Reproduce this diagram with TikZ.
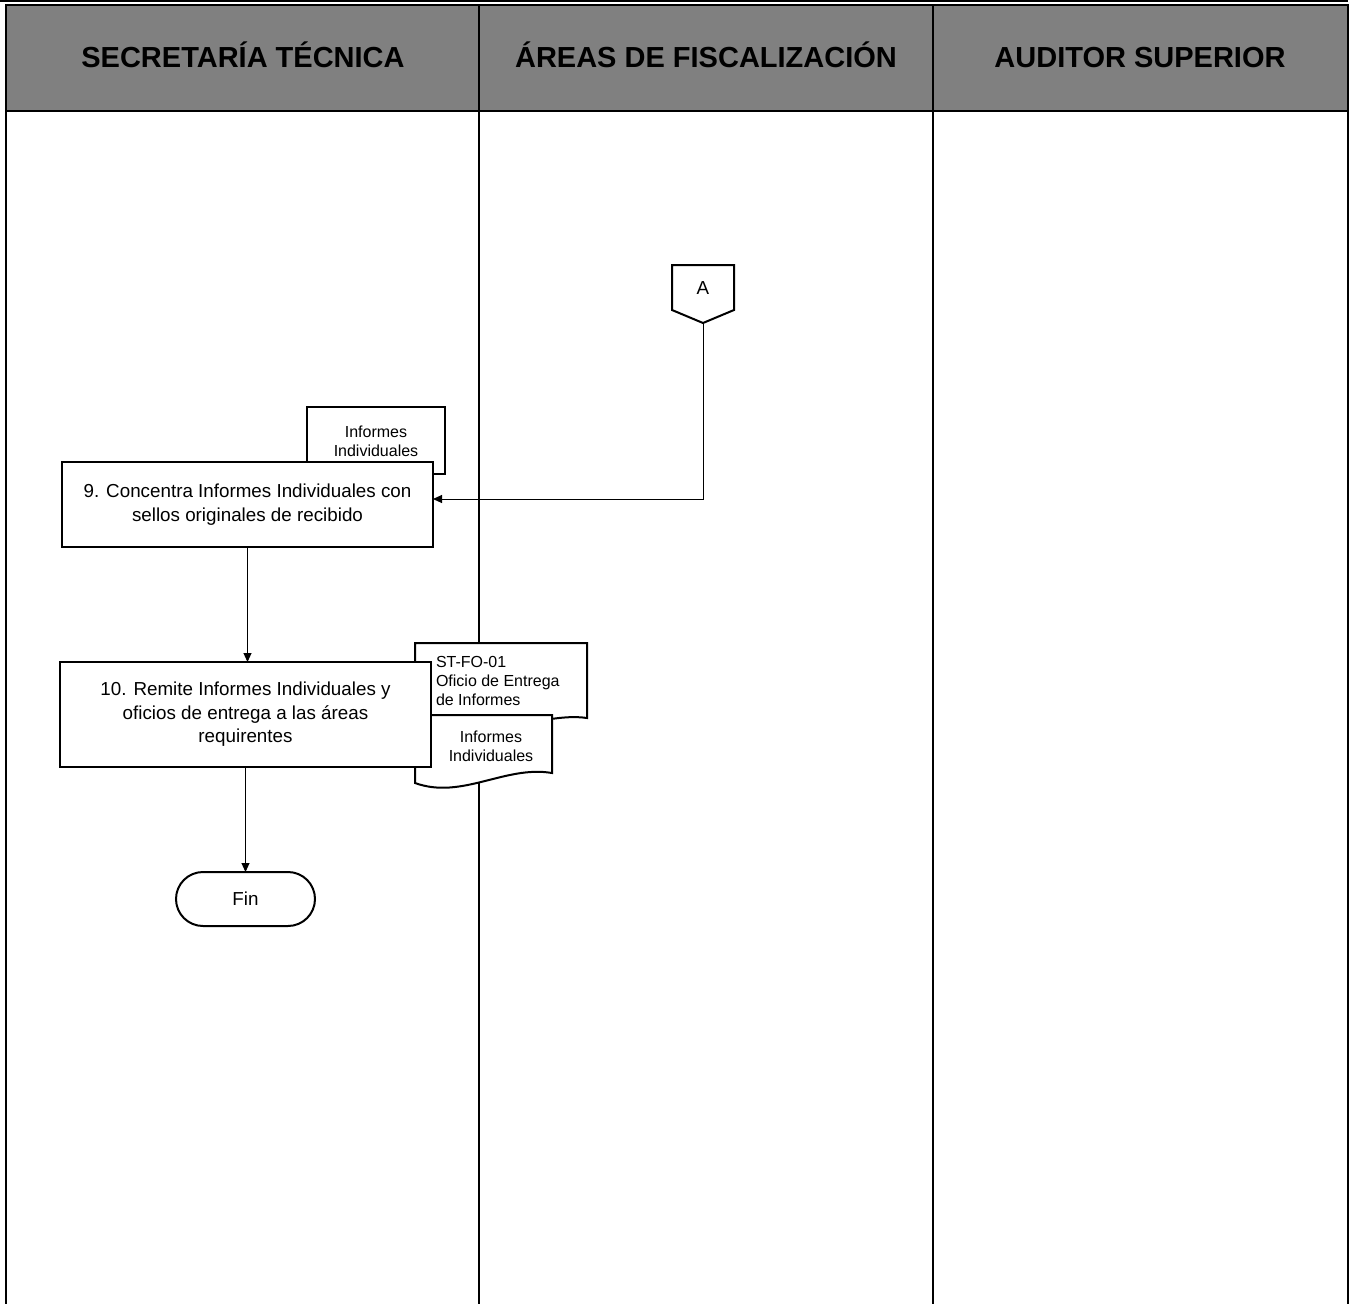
\documentclass[tikz,border=0pt]{standalone}
\usepackage{fontspec}
\setmainfont{Liberation Sans}
\usetikzlibrary{arrows.meta,calc}
\begin{document}
\begin{tikzpicture}[x=1pt,y=-1pt,
  every node/.style={inner sep=0pt,outer sep=0pt},
  lane/.style={line width=1.2pt},
  headtext/.style={font=\fontsize{29}{34}\selectfont\bfseries,anchor=base},
  procbox/.style={draw,line width=2pt,fill=white,align=center,
    minimum width=371pt,font=\fontsize{18.8}{23.5}\selectfont},
  docshape/.style={draw,line width=2pt,fill=white},
  doctext/.style={font=\fontsize{16}{18.8}\selectfont},
  flow/.style={line width=1pt,-{Triangle[length=9pt,width=8pt]}},
  ]
\useasboundingbox (0,0) rectangle (1351,1304);

% top rule and lane headers
\draw[line width=1.5pt] (0,1) -- (1348,1);
\draw[line width=2pt,fill=gray] (6,5) rectangle (1348,111);
\draw[line width=2pt] (479,5) -- (479,111) (933,5) -- (933,111);
\node[headtext] (h1) at (243,67) {SECRETARÍA TÉCNICA};
\node[headtext] (h2) at (706,67) {ÁREAS DE FISCALIZACIÓN};
\node[headtext] (h3) at (1140,67) {AUDITOR SUPERIOR};

% lane dividers
\draw[lane] (6,111) -- (6,1304) (479,111) -- (479,1304)
            (933,111) -- (933,1304) (1348,111) -- (1348,1304);

% document behind step 9
\draw[docshape] (307,407) rectangle (445,474);
\node[doctext,align=center] (d0) at (376,441) {Informes\\Individuales};

% step 9
\node[procbox,minimum height=85pt] (b9) at (247.5,504.5)
  {9. Concentra Informes Individuales con\\sellos originales de recibido};

% documents beside step 10
\draw[docshape] (415,643) -- (587,643) -- (587,718)
  .. controls (540,711) and (470,748) .. (415,730) -- cycle;
\node[doctext,align=left,anchor=west] (d1) at (436,681)
  {ST-FO-01\\Oficio de Entrega\\de Informes};
\draw[docshape] (415,715) -- (552,715) -- (552,773)
  .. controls (505,765) and (462,800) .. (415,783) -- cycle;
\node[doctext,align=center] (d2) at (491,746) {Informes\\Individuales};

% step 10
\node[procbox,minimum height=105pt] (b10) at (245.5,714.5)
  {10. Remite Informes Individuales y\\oficios de entrega a las áreas\\requirentes};

% end terminal
\node[draw,line width=2pt,fill=white,rounded corners=27pt,
  minimum width=139pt,minimum height=54pt,
  font=\fontsize{18.8}{22}\selectfont] (fin) at (245.5,899) {Fin};

% off-page connector A
\draw[line width=2pt,fill=white] (672,265) -- (734,265) -- (734,310)
  -- (703,323) -- (672,310) -- cycle;
\node[font=\fontsize{18.8}{22}\selectfont] (A) at (703,288) {A};
\coordinate (Atip) at (703,323);

% connectors
\draw[flow] (Atip) |- ($(b9.east)+(0,-5.5)$);
\draw[flow] (b9.south) -- (b9.south |- b10.north);
\draw[flow] (b10.south) -- (fin.north);
\end{tikzpicture}
\end{document}
